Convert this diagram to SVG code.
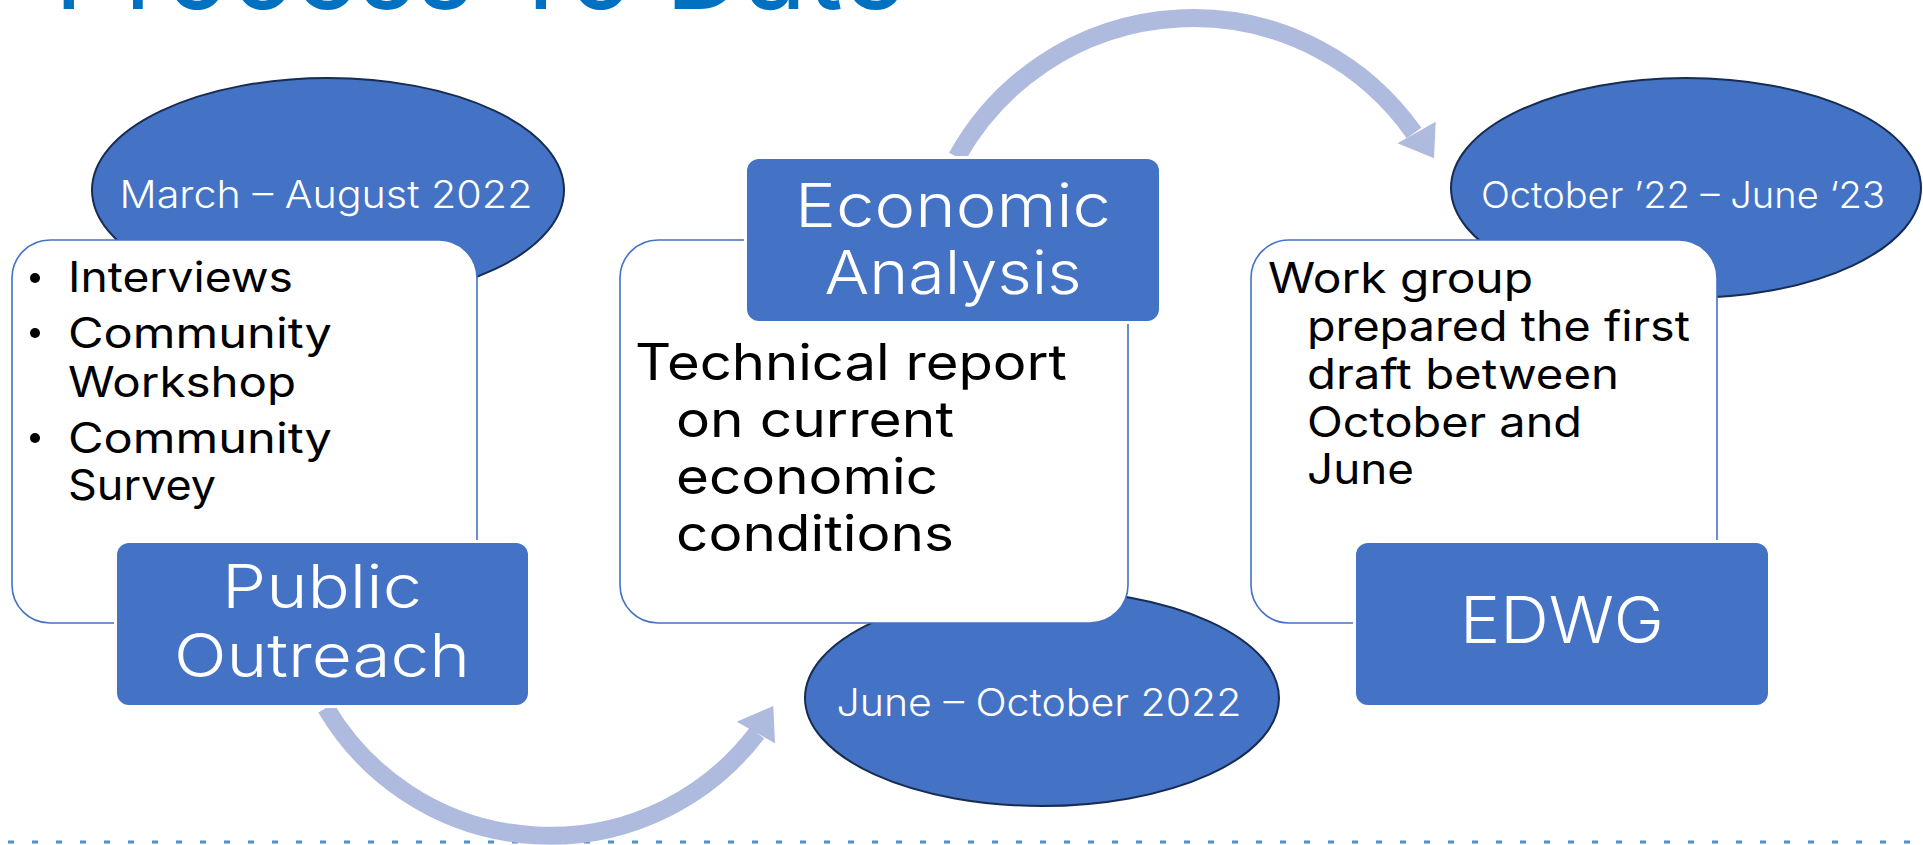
<svg xmlns="http://www.w3.org/2000/svg" width="1923" height="845" viewBox="0 0 1923 845">
<defs>
<style>
.ell{fill:#4472C4;stroke:#172C51;stroke-width:2}
.wbox{fill:#fff;stroke:#4472C4;stroke-width:1.6}
.bbox{fill:#4472C4;stroke:#fff;stroke-width:6;paint-order:stroke}
.arc{fill:none;stroke:#AEBBDE;stroke-width:18}
.head{fill:#AEBBDE}
.t{font-family:Inter,"Liberation Sans",sans-serif}
.wl{fill:#fff;font-weight:300}
.bk{fill:#000}
</style>
</defs>
<rect width="1923" height="845" fill="#fff"/>
<text class="t" x="54" y="9" font-size="118" fill="#0070C0" textLength="852" lengthAdjust="spacingAndGlyphs">Process To Date</text>
<line x1="8" y1="842" x2="1923" y2="842" stroke="#4A90D4" stroke-width="3" stroke-dasharray="6 18"/>
<g id="connectors">
<path class="arc" d="M 326 708 A 260 260 0 0 0 757 733"/>
<polygon class="head" points="736.7,721.7 775,743.3 773.3,706"/>
<path class="arc" d="M 957 157 A 270 270 0 0 1 1414 133"/>
<polygon class="head" points="1397.5,143.3 1435.7,121.7 1434,158.3"/>
</g>
<g id="date1">
<ellipse class="ell" cx="328" cy="190" rx="236" ry="112"/>
<text class="t wl" x="326" y="208" font-size="38" text-anchor="middle" textLength="413" lengthAdjust="spacingAndGlyphs">March – August 2022</text>
</g>
<g id="box1">
<rect class="wbox" x="12" y="240" width="465" height="383" rx="38"/>
<g class="t bk" font-size="42">
<circle cx="35" cy="278" r="5"/>
<circle cx="35" cy="333" r="5"/>
<circle cx="35" cy="438" r="5"/>
<text x="68" y="292" textLength="225" lengthAdjust="spacingAndGlyphs">Interviews</text>
<text x="68" y="348" textLength="264" lengthAdjust="spacingAndGlyphs">Community</text>
<text x="68" y="397" textLength="228" lengthAdjust="spacingAndGlyphs">Workshop</text>
<text x="68" y="453" textLength="264" lengthAdjust="spacingAndGlyphs">Community</text>
<text x="68" y="500" textLength="148" lengthAdjust="spacingAndGlyphs">Survey</text>
</g>
</g>
<g id="public-outreach">
<rect class="bbox" x="117" y="543" width="411" height="162" rx="12"/>
<text class="t wl" x="322" y="608" font-size="60" text-anchor="middle" textLength="200" lengthAdjust="spacingAndGlyphs">Public</text>
<text class="t wl" x="322" y="677" font-size="60" text-anchor="middle" textLength="296" lengthAdjust="spacingAndGlyphs">Outreach</text>
</g>
<g id="date2">
<ellipse class="ell" cx="1042" cy="698" rx="237" ry="108"/>
<text class="t wl" x="1039" y="716" font-size="38" text-anchor="middle" textLength="405" lengthAdjust="spacingAndGlyphs">June – October 2022</text>
</g>
<g id="box2">
<rect class="wbox" x="620" y="240" width="508" height="383" rx="38"/>
<g class="t bk" font-size="50">
<text x="635" y="380" textLength="432" lengthAdjust="spacingAndGlyphs">Technical report</text>
<text x="676" y="437" textLength="278" lengthAdjust="spacingAndGlyphs">on current</text>
<text x="676" y="494" textLength="262" lengthAdjust="spacingAndGlyphs">economic</text>
<text x="676" y="551" textLength="278" lengthAdjust="spacingAndGlyphs">conditions</text>
</g>
</g>
<g id="economic-analysis">
<rect class="bbox" x="747" y="159" width="412" height="162" rx="12"/>
<text class="t wl" x="953" y="227" font-size="61" text-anchor="middle" textLength="316" lengthAdjust="spacingAndGlyphs">Economic</text>
<text class="t wl" x="953" y="294" font-size="61" text-anchor="middle" textLength="257" lengthAdjust="spacingAndGlyphs">Analysis</text>
</g>
<g id="date3">
<ellipse class="ell" cx="1686" cy="188" rx="235" ry="110"/>
<text class="t wl" x="1683" y="208" font-size="37" text-anchor="middle" textLength="404" lengthAdjust="spacingAndGlyphs">October ’22 – June ‘23</text>
</g>
<g id="box3">
<rect class="wbox" x="1251" y="240" width="466" height="383" rx="38"/>
<g class="t bk" font-size="42">
<text x="1268" y="293" textLength="265" lengthAdjust="spacingAndGlyphs">Work group</text>
<text x="1307" y="341" textLength="383" lengthAdjust="spacingAndGlyphs">prepared the first</text>
<text x="1307" y="389" textLength="312" lengthAdjust="spacingAndGlyphs">draft between</text>
<text x="1307" y="437" textLength="275" lengthAdjust="spacingAndGlyphs">October and</text>
<text x="1307" y="484" textLength="107" lengthAdjust="spacingAndGlyphs">June</text>
</g>
</g>
<g id="edwg">
<rect class="bbox" x="1356" y="543" width="412" height="162" rx="12"/>
<text class="t wl" x="1562" y="643" font-size="64" text-anchor="middle" textLength="204" lengthAdjust="spacingAndGlyphs">EDWG</text>
</g>
</svg>
